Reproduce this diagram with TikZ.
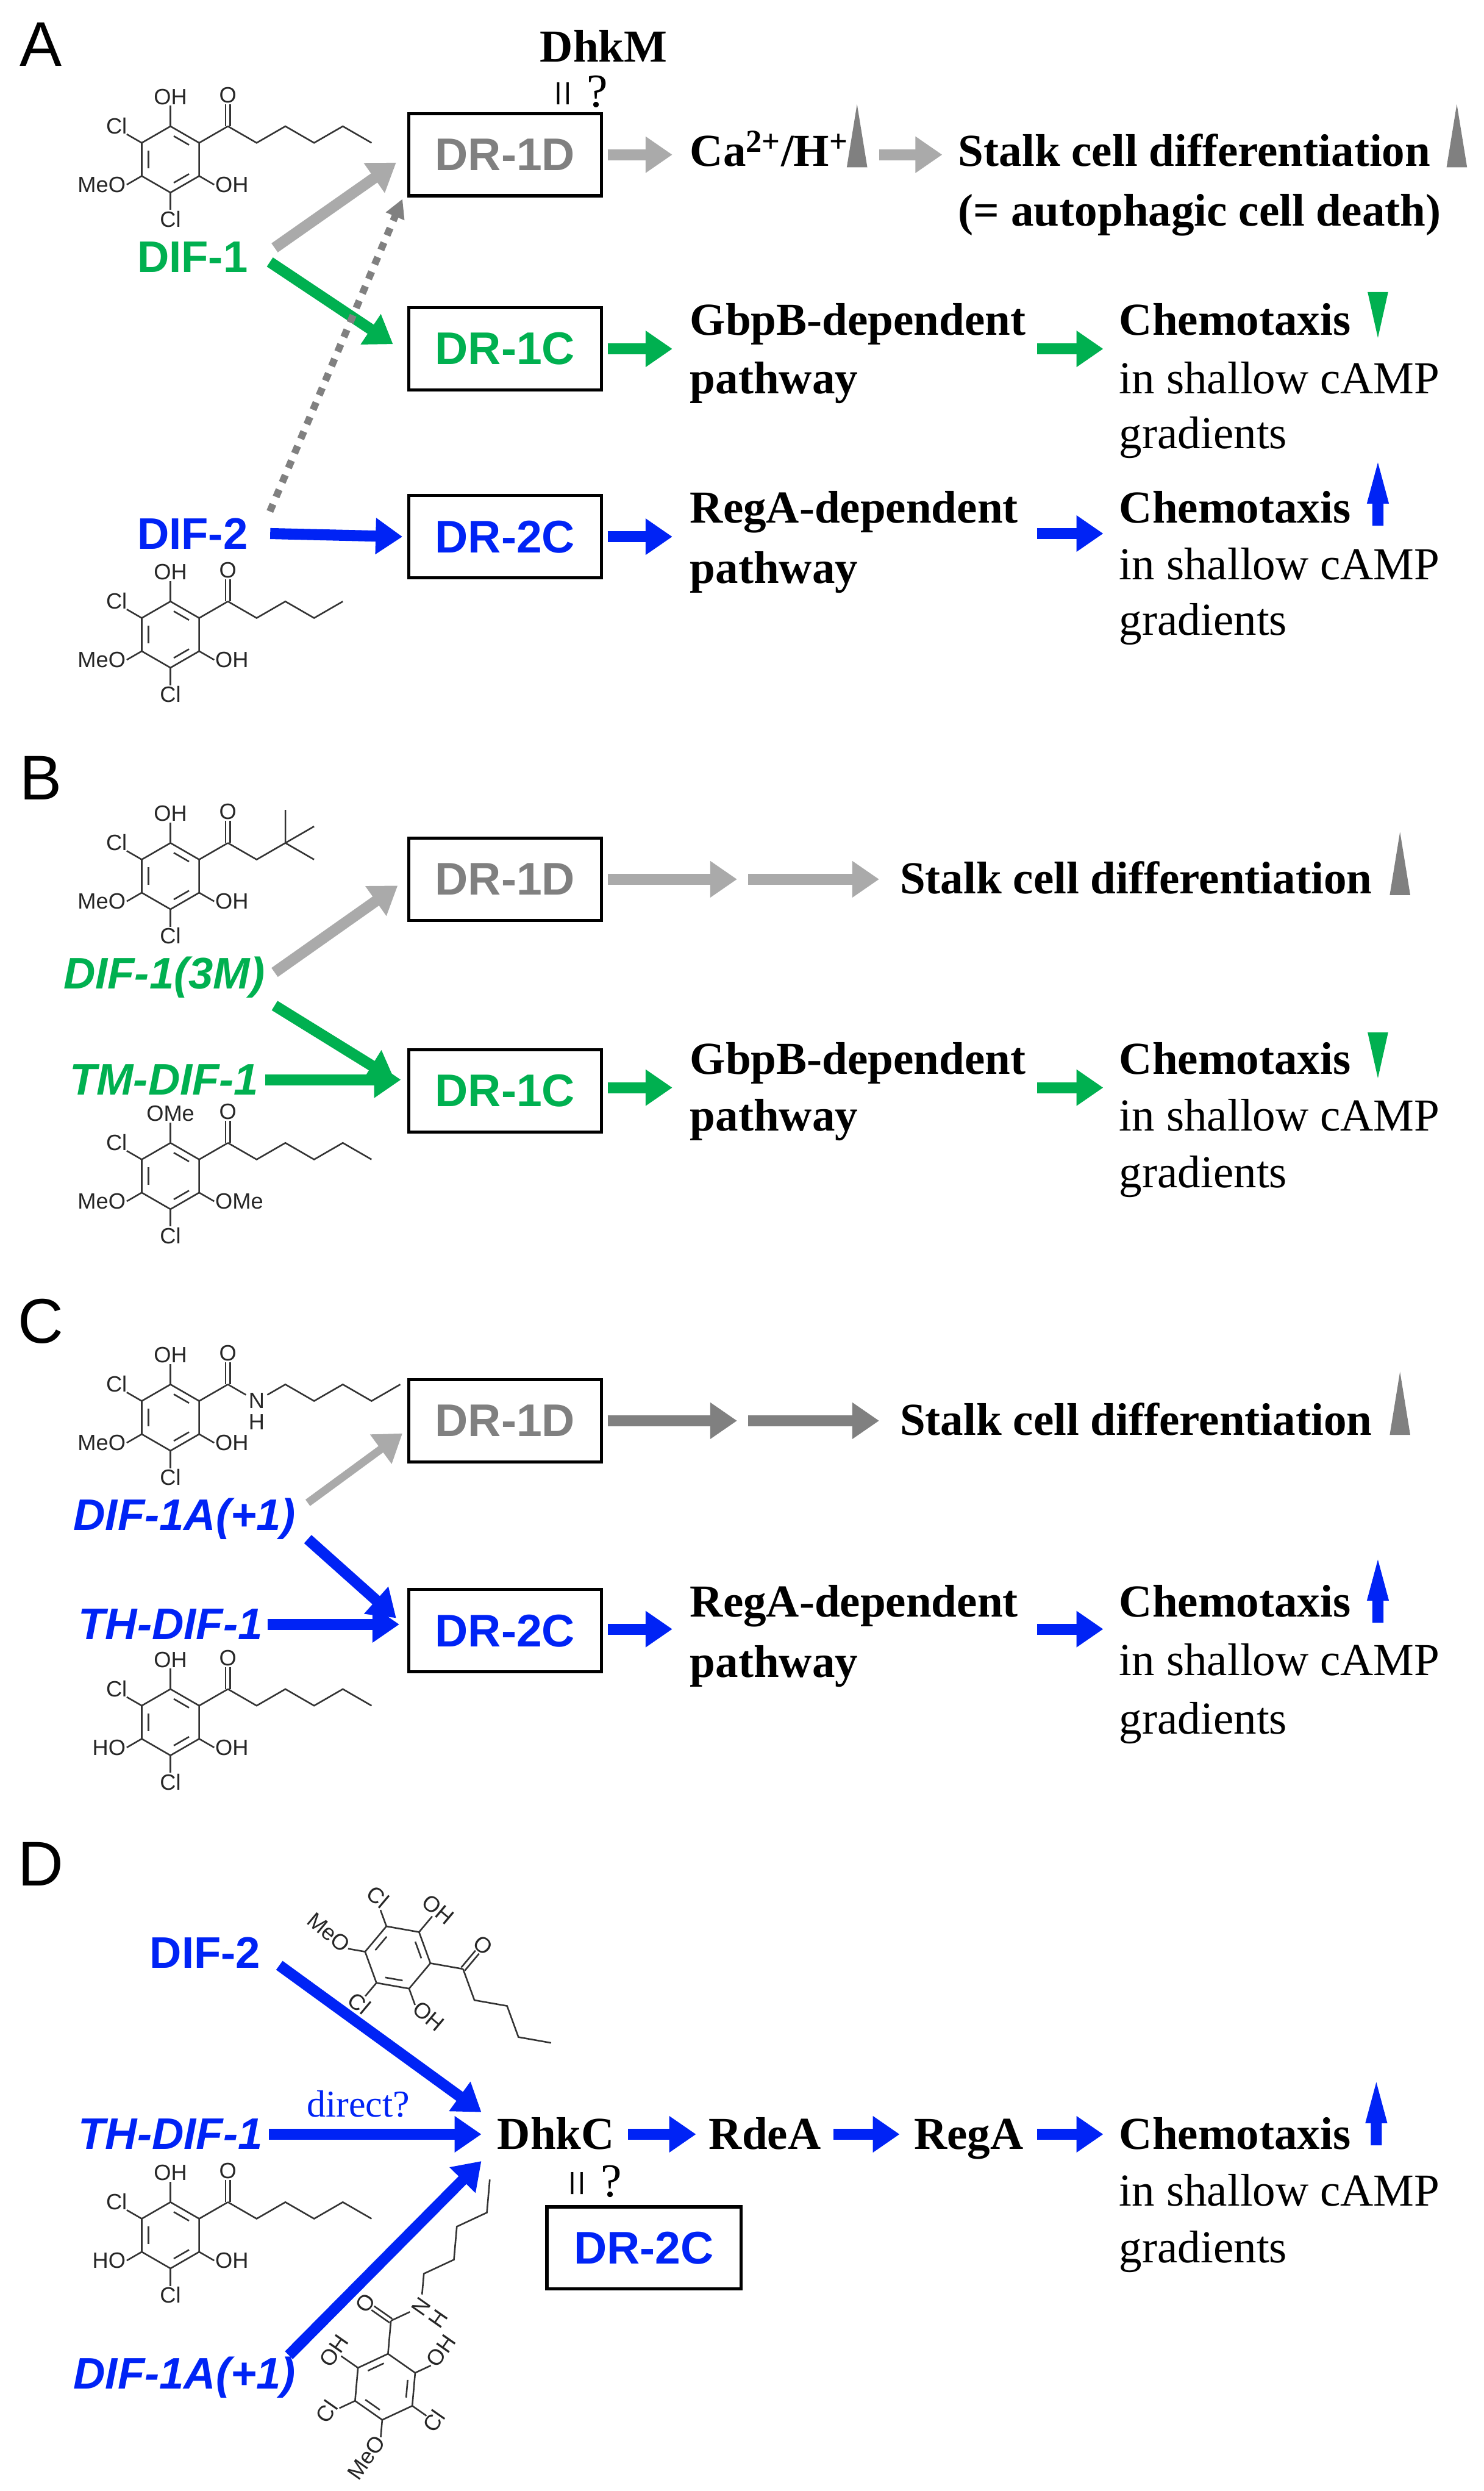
\documentclass[tikz,border=0pt]{standalone}
\usepackage{fontspec}
\setmainfont{Liberation Serif}
\setsansfont{Liberation Sans}
\usetikzlibrary{arrows.meta,calc}
\definecolor{cg}{RGB}{0,176,80}
\definecolor{cb}{RGB}{0,35,245}
\definecolor{lg}{RGB}{170,170,170}
\definecolor{mg}{RGB}{128,128,128}
\newcommand\chHex{\draw[mb] (36.4,21)--(54.6,10.5)--(72.8,21)--(91,10.5)--(109.2,21)--(127.4,10.5);}
\newcommand\chPen{\draw[mb] (36.4,21)--(54.6,10.5)--(72.8,21)--(91,10.5)--(109.2,21);}
\newcommand\chTbu{\draw[mb] (36.4,21)--(54.6,10.5)--(72.8,21)--(72.8,42);\draw[mb] (72.8,21)--(91,10.5);\draw[mb] (72.8,21)--(91,31.5);}
\newcommand\chAmd{\node[ml,inner sep=1.5pt] (N) at (54.6,10.5) {N};\node[ml] at (54.6,-3) {H};
  \draw[mb] (36.4,21)--(N);\draw[mb] (N)--(72.8,21)--(91,10.5)--(109.2,21)--(127.4,10.5)--(145.6,21);}
\tikzset{
 x=1pt,y=1pt,
 mb/.style={line width=1pt,black!80},
 ml/.style={font=\sffamily\fontsize{14}{14}\selectfont,inner sep=0.5pt,black!85},
 pics/mol/.style n args={6}{code={
  \draw[mb] (90:21)--(30:21)--(-30:21)--(-90:21)--(-150:21)--(150:21)--cycle;
  \draw[mb] ($(90:16)!.15!(30:16)$)--($(90:16)!.85!(30:16)$);
  \draw[mb] ($(150:16)!.15!(-150:16)$)--($(150:16)!.85!(-150:16)$);
  \draw[mb] ($(-30:16)!.15!(-90:16)$)--($(-30:16)!.85!(-90:16)$);
  \draw[mb] (90:21)--(90:34); \node[ml,anchor=south] at (90:34) {#1};
  \draw[mb] (150:21)--(150:32); \node[ml,anchor=south east] at (150:31) {#2};
  \draw[mb] (-150:21)--(-150:32); \node[ml,anchor=east] at (-150:32) {#3};
  \draw[mb] (-90:21)--(-90:32); \node[ml,anchor=north] at (-90:32) {#4};
  \draw[mb] (-30:21)--(-30:32); \node[ml,anchor=west] at (-30:32) {#5};
  \draw[mb] (30:21)--(36.4,21);
  \draw[mb] (34.9,21)--(34.9,35); \draw[mb] (37.9,21)--(37.9,35);
  \node[ml,anchor=south] at (36.4,35) {O};
  #6
 }},
 ar/.style={line width=7pt,-{Triangle[length=17pt,width=22pt]}},
 bx/.style={draw,line width=2pt,minimum width=122pt,minimum height=52pt,inner sep=0,
   font=\sffamily\bfseries\fontsize{29}{29}\selectfont},
 tb/.style={font=\bfseries\fontsize{29}{35}\selectfont,inner sep=0,anchor=mid west,yshift=-7pt},
 tr/.style={font=\fontsize{29}{35}\selectfont,inner sep=0,anchor=mid west,yshift=-7pt},
 lb/.style={font=\sffamily\bfseries\fontsize{28}{28}\selectfont,inner sep=0},
 li/.style={font=\sffamily\bfseries\itshape\fontsize{28}{28}\selectfont,inner sep=0},
 pl/.style={font=\sffamily\fontsize{40}{40}\selectfont,inner sep=0},
 eq/.style={font=\fontsize{30}{30}\selectfont,inner sep=0},
}
\newcommand\upar[3]{\fill[#1] (#2-6.5,#3) -- (#2+6.5,#3) -- (#2,#3+40) -- cycle;}
\newcommand\uparr[3]{\fill[#1] (#2-3.5,#3) -- (#2+3.5,#3) -- (#2+3.5,#3+14) -- (#2+7,#3+14) -- (#2,#3+40) -- (#2-7,#3+14) -- (#2-3.5,#3+14) -- cycle;}
\newcommand\dnar[3]{\fill[#1] (#2-6.5,#3) -- (#2+6.5,#3) -- (#2,#3-29) -- cycle;}
\begin{document}
\begin{tikzpicture}
\useasboundingbox[fill=white] (0,0) rectangle (940,-1578);
% ================= A
\node[pl] (pA) at (26,-28) {A};
\pic at (108,-101) {mol={OH}{Cl}{MeO}{Cl}{OH}{\chHex}};
\pic at (108,-402) {mol={OH}{Cl}{MeO}{Cl}{OH}{\chPen}};
\node[tb] (dhkm) at (342,-30) {DhkM};
\node[eq] (eqA) at (369,-58) {\rotatebox{90}{=}\,?};
\node[bx,text=mg] (a1d) at (320,-98) {DR-1D};
\node[bx,text=cg] (a1c) at (320,-221) {DR-1C};
\node[bx,text=cb] (a2c) at (320,-340) {DR-2C};
\node[lb,text=cg] (adif1) at (122,-163) {DIF-1};
\node[lb,text=cb] (adif2) at (122,-338) {DIF-2};
\coordinate (a1) at (174,-157); \coordinate (a2) at (251,-103);
\coordinate (a3) at (171,-166); \coordinate (a4) at (249,-218);
\coordinate (a5) at (171,-324); \coordinate (a6) at (255,-126);
\draw[ar,lg] (a1) -- (a2);
\draw[ar,cg] (a3) -- (a4);
\draw[mg,line width=4.5pt,dash pattern=on 5pt off 5pt,-{Triangle[length=12pt,width=12pt]}] (a5) -- (a6);
\draw[ar,cb] ([xshift=14pt]adif2.east) -- ([xshift=-3pt]a2c.west);
\node[tb] (ca) at (437,-96) {Ca\textsuperscript{2+}/H\textsuperscript{+}};
\upar{mg}{543}{-106}
\node[tb] (stA) at (607,-96) {Stalk cell differentiation};
\upar{mg}{923}{-106}
\node[tb] (auto) at (607,-134) {(= autophagic cell death)};
\draw[ar,lg] ([xshift=3pt]a1d.east) -- ([xshift=-11pt]a1d.east -| ca.west);
\coordinate (a7) at (557,-98);
\draw[ar,lg] (a7) -- ([xshift=-10pt]a7 -| stA.west);
\node[tb] (gA) at (437,-203) {GbpB-dependent};
\node[tb] at (437,-240) {pathway};
\node[tb] (cA1) at (709,-203) {Chemotaxis};
\dnar{cg}{873}{-185}
\node[tr] at (709,-240) {in shallow cAMP};
\node[tr] at (709,-275) {gradients};
\coordinate (a8) at (657,-221);
\draw[ar,cg] ([xshift=3pt]a1c.east) -- ([xshift=-11pt]a1c.east -| gA.west);
\draw[ar,cg] (a8) -- ([xshift=-10pt]a8 -| cA1.west);
\node[tb] (rA) at (437,-322) {RegA-dependent};
\node[tb] at (437,-360) {pathway};
\node[tb] (cA2) at (709,-322) {Chemotaxis};
\uparr{cb}{873}{-333}
\node[tr] at (709,-358) {in shallow cAMP};
\node[tr] at (709,-393) {gradients};
\coordinate (a9) at (657,-338);
\draw[ar,cb] ([xshift=3pt]a2c.east) -- ([xshift=-11pt]a2c.east -| rA.west);
\draw[ar,cb] (a9) -- ([xshift=-10pt]a9 -| cA2.west);
% ================= B
\node[pl] (pB) at (26,-493) {B};
\pic at (108,-555) {mol={OH}{Cl}{MeO}{Cl}{OH}{\chTbu}};
\pic at (108,-745) {mol={OMe}{Cl}{MeO}{Cl}{OMe}{\chHex}};
\node[bx,text=mg] (b1d) at (320,-557) {DR-1D};
\node[bx,text=cg] (b1c) at (320,-691) {DR-1C};
\node[li,text=cg] (b3m) at (104,-619) {DIF-1(3M)};
\node[li,text=cg] (btm) at (104,-684) {TM-DIF-1};
\coordinate (b1) at (174,-616); \coordinate (b2) at (252,-561);
\coordinate (b3) at (174,-637); \coordinate (b4) at (250,-684);
\draw[ar,lg] (b1) -- (b2);
\draw[ar,cg] (b3) -- (b4);
\draw[ar,cg] ([xshift=4pt]btm.east) -- ([xshift=-4pt]btm.east -| b1c.west);
\coordinate (b5) at (467,-557); \coordinate (b6) at (474,-557);
\draw[ar,lg] ([xshift=3pt]b1d.east) -- (b5);
\node[tb] (stB) at (570,-557) {Stalk cell differentiation};
\draw[ar,lg] (b6) -- ([xshift=-13pt]b6 -| stB.west);
\upar{mg}{887}{-567}
\node[tb] (gB) at (437,-671) {GbpB-dependent};
\node[tb] at (437,-707) {pathway};
\node[tb] (cB) at (709,-671) {Chemotaxis};
\dnar{cg}{873}{-654}
\node[tr] at (709,-707) {in shallow cAMP};
\node[tr] at (709,-743) {gradients};
\coordinate (b7) at (657,-689);
\draw[ar,cg] ([xshift=3pt,yshift=2pt]b1c.east) -- ([xshift=-11pt,yshift=2pt]b1c.east -| gB.west);
\draw[ar,cg] (b7) -- ([xshift=-10pt]b7 -| cB.west);
% ================= C
\node[pl] (pC) at (26,-837) {C};
\pic at (108,-898) {mol={OH}{Cl}{MeO}{Cl}{OH}{\chAmd}};
\pic at (108,-1091) {mol={OH}{Cl}{HO}{Cl}{OH}{\chHex}};
\node[bx,text=mg] (c1d) at (320,-900) {DR-1D};
\node[bx,text=cb] (c2c) at (320,-1033) {DR-2C};
\node[li,text=cb] (c1a) at (117,-962) {DIF-1A(+1)};
\node[li,text=cb] (cth) at (108,-1029) {TH-DIF-1};
\coordinate (c1) at (195,-952); \coordinate (c2) at (255,-908);
\coordinate (c3) at (195,-975); \coordinate (c4) at (251,-1025);
\draw[ar,lg,line width=5pt] (c1) -- (c2);
\draw[ar,cb] (c3) -- (c4);
\draw[ar,cb] ([xshift=3pt]cth.east) -- ([xshift=-5pt]cth.east -| c2c.west);
\coordinate (c5) at (467,-900); \coordinate (c6) at (474,-900);
\draw[ar,mg] ([xshift=3pt]c1d.east) -- (c5);
\node[tb] (stC) at (570,-900) {Stalk cell differentiation};
\draw[ar,mg] (c6) -- ([xshift=-13pt]c6 -| stC.west);
\upar{mg}{887}{-909}
\node[tb] (rC) at (437,-1015) {RegA-dependent};
\node[tb] at (437,-1053) {pathway};
\node[tb] (cC) at (709,-1015) {Chemotaxis};
\uparr{cb}{873}{-1028}
\node[tr] at (709,-1052) {in shallow cAMP};
\node[tr] at (709,-1089) {gradients};
\coordinate (c7) at (657,-1032);
\draw[ar,cb] ([xshift=3pt,yshift=1pt]c2c.east) -- ([xshift=-11pt,yshift=1pt]c2c.east -| rC.west);
\draw[ar,cb] (c7) -- ([xshift=-10pt]c7 -| cC.west);
% ================= D
\node[pl] (pD) at (26,-1181) {D};
\pic[rotate=-40,transform shape] at (252,-1240) {mol={OH}{Cl}{MeO}{Cl}{OH}{\chPen}};
\pic at (108,-1416) {mol={OH}{Cl}{HO}{Cl}{OH}{\chHex}};
\pic[rotate=55,transform shape] at (244,-1512) {mol={OH}{Cl}{MeO}{Cl}{OH}{\chAmd}};
\node[lb,text=cb] (ddif2) at (130,-1237) {DIF-2};
\node[li,text=cb] (dth) at (108,-1352) {TH-DIF-1};
\node[li,text=cb] (d1a) at (117,-1506) {DIF-1A(+1)};
\node[tb] (dhkc) at (315,-1352) {DhkC};
\node[font=\fontsize{24}{24}\selectfont,text=cb,inner sep=0] (dir) at (227,-1333) {direct?};
\coordinate (d1) at (177,-1245); \coordinate (d2) at (305,-1338);
\coordinate (d3) at (183,-1492); \coordinate (d4) at (305,-1369);
\coordinate (d5) at (305,-1352);
\draw[ar,cb] (d1) -- (d2);
\draw[ar,cb] ([xshift=4pt]dth.east) -- (d5);
\draw[ar,cb] (d3) -- (d4);
\node[eq] (eqD) at (378,-1382) {\rotatebox{90}{=}\,?};
\node[bx,text=cb,minimum width=123pt] (d2c) at (408,-1424) {DR-2C};
\node[tb] (rde) at (449,-1352) {RdeA};
\node[tb] (rega) at (579,-1352) {RegA};
\node[tb] (cD) at (709,-1352) {Chemotaxis};
\uparr{cb}{872}{-1359}
\node[tr] at (709,-1388) {in shallow cAMP};
\node[tr] at (709,-1424) {gradients};
\coordinate (d6) at (398,-1352); \coordinate (d7) at (528,-1352); \coordinate (d8) at (657,-1352);
\draw[ar,cb] (d6) -- ([xshift=-8pt]d6 -| rde.west);
\draw[ar,cb] (d7) -- ([xshift=-9pt]d7 -| rega.west);
\draw[ar,cb] (d8) -- ([xshift=-10pt]d8 -| cD.west);
\end{tikzpicture}
\end{document}
